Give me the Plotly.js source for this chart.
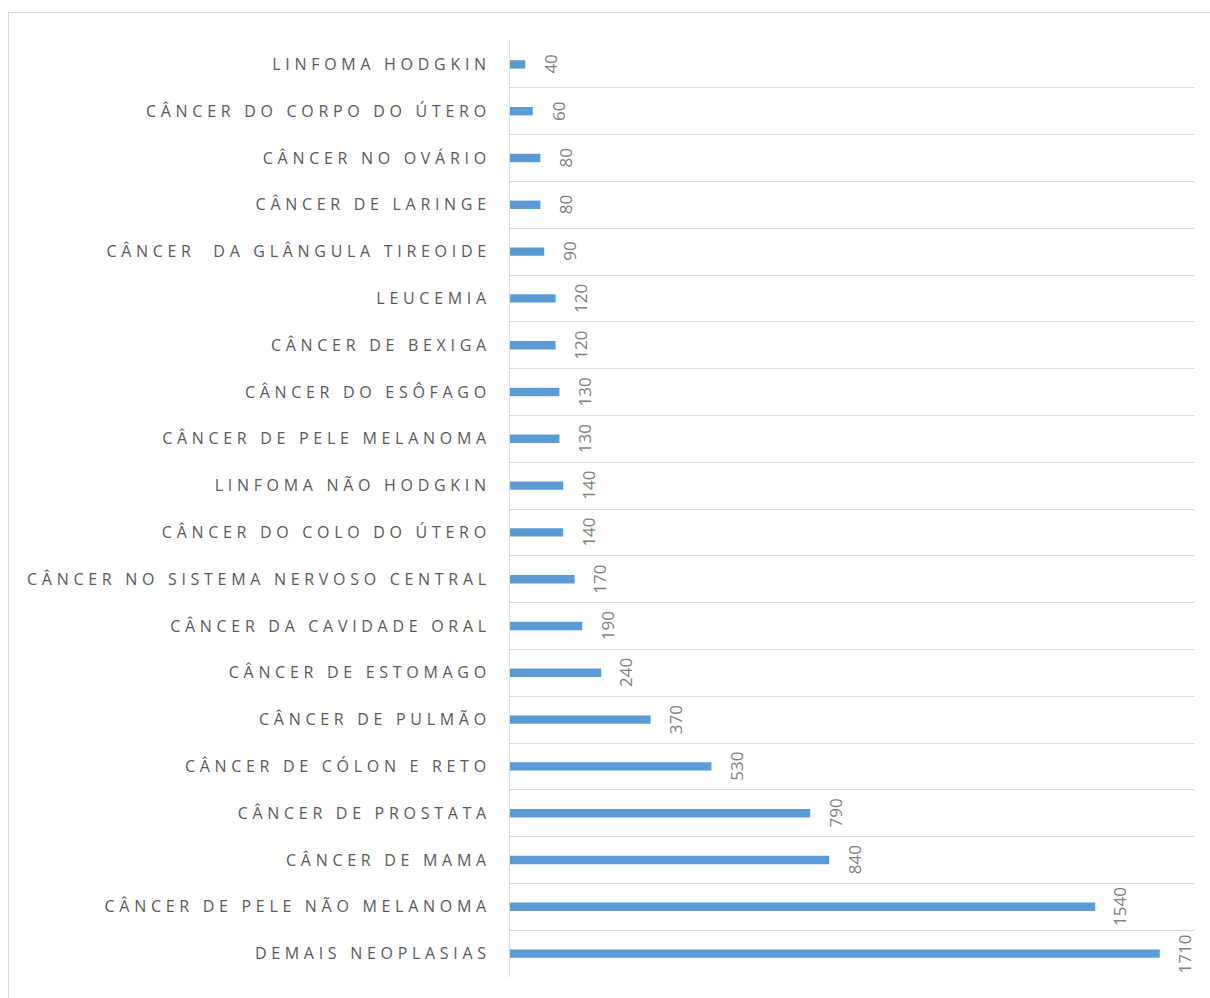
<!DOCTYPE html>
<html>
<head>
<meta charset="utf-8">
<script src="https://cdn.plot.ly/plotly-3.0.1.min.js"></script>
<style>
  html, body { margin: 0; padding: 0; background: #fff; overflow: hidden; }
  #chart { position: absolute; left: 0; top: 0; width: 1210px; height: 998px; }
  #frame { position: absolute; left: 8px; top: 12px; width: 1220px; height: 1000px;
           border: 1px solid #d9d9d9; pointer-events: none; box-sizing: border-box; }
  .ytick text { letter-spacing: 4.7px; }
</style>
</head>
<body>
<div id="chart"></div>
<div id="frame"></div>
<script>
const categories = [
  "LINFOMA HODGKIN",
  "CÂNCER DO CORPO DO ÚTERO",
  "CÂNCER NO OVÁRIO",
  "CÂNCER DE LARINGE",
  "CÂNCER \u00a0DA GLÂNGULA TIREOIDE",
  "LEUCEMIA",
  "CÂNCER DE BEXIGA",
  "CÂNCER DO ESÔFAGO",
  "CÂNCER DE PELE MELANOMA",
  "LINFOMA NÃO HODGKIN",
  "CÂNCER DO COLO DO ÚTERO",
  "CÂNCER NO SISTEMA NERVOSO CENTRAL",
  "CÂNCER DA CAVIDADE ORAL",
  "CÂNCER DE ESTOMAGO",
  "CÂNCER DE PULMÃO",
  "CÂNCER DE CÓLON E RETO",
  "CÂNCER DE PROSTATA",
  "CÂNCER DE MAMA",
  "CÂNCER DE PELE NÃO MELANOMA",
  "DEMAIS NEOPLASIAS"
];
const values = [40, 60, 80, 80, 90, 120, 120, 130, 130, 140, 140, 170, 190, 240, 370, 530, 790, 840, 1540, 1710];

const trace = {
  type: 'bar',
  orientation: 'h',
  x: values,
  y: categories,
  marker: { color: '#5b9bd5' },
  hoverinfo: 'x+y'
};

const annotations = values.map((v, i) => ({
  x: v, y: categories[i], xref: 'x', yref: 'y',
  text: String(v), showarrow: false, textangle: -90,
  xshift: 25, xanchor: 'center', yanchor: 'middle',
  font: { family: 'Open Sans, sans-serif', size: 17, color: '#7f7f7f' }
}));

const layout = {
  width: 1210, height: 998,
  margin: { l: 510, r: 16, t: 41, b: 21, pad: 0 },
  paper_bgcolor: '#ffffff', plot_bgcolor: '#ffffff',
  showlegend: false,
  bargap: 0.82,
  xaxis: {
    range: [0, 1800], showgrid: false, zeroline: false, showticklabels: false,
    ticks: '', showline: false, fixedrange: true
  },
  yaxis: {
    type: 'category', autorange: 'reversed', tickson: 'boundaries',
    showgrid: true, gridcolor: '#d9d9d9', gridwidth: 1,
    showline: true, linecolor: '#d9d9d9', linewidth: 1,
    ticks: '', ticklen: 0, ticklabelstandoff: 15,
    tickfont: { family: 'Open Sans, sans-serif', size: 16, color: '#595959' },
    zeroline: false, fixedrange: true
  },
  annotations: annotations
};

Plotly.newPlot('chart', [trace], layout, { displayModeBar: false, staticPlot: true });
</script>
</body>
</html>
